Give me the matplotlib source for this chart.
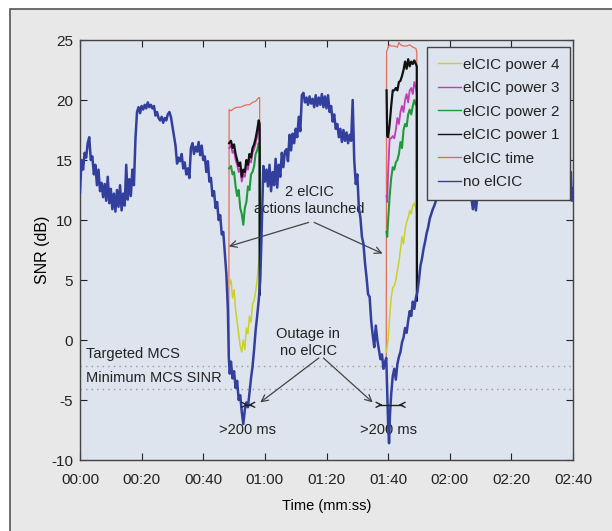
import numpy as np
import matplotlib
matplotlib.use('Agg')
import matplotlib.pyplot as plt
from matplotlib.patches import Rectangle
from matplotlib.lines import Line2D

nan = float('nan')

# ---------- dados (tempo em s, SNR em dB) ----------
blue_time = [0, 0.5, 1, 1.5, 2, 2.5, 3, 3.5, 4, 4.5, 5, 5.5, 6, 6.5, 7, 7.5, 8, 8.5, 9, 9.5, 10,
             10.5, 11, 11.5, 12, 12.5, 13, 13.5, 14, 14.5, 15, 15.5, 16, 16.5, 17, 17.5, 18, 18.5, 19, 19.5, 20,
             20.5, 21, 21.5, 22, 22.5, 23, 23.5, 24, 24.5, 25, 25.5, 26, 26.5, 27, 27.5, 28, 28.5, 29, 29.5, 30,
             30.5, 31, 31.5, 32, 32.5, 33, 33.5, 34, 34.5, 35, 35.5, 36, 36.5, 37, 37.5, 38, 38.5, 39, 39.5, 40,
             40.5, 41, 41.5, 42, 42.5, 43, 43.5, 44, 44.5, 45, 45.5, 46, 46.5, 47, 47.5, 48,
             48.3, 48.6, 49, 49.5, 50, 50.5, 51, 51.5, 52, 52.5, 53, 53.5, 54, 54.5, 55, 55.5, 56, 56.5, 57, 57.5,
             58, 58.5, 59, 59.5, 60,
             60.5, 61, 61.5, 62, 62.5, 63, 63.5, 64, 64.5, 65, 65.5, 66, 66.5, 67, 67.5, 68, 68.5, 69, 69.5, 70,
             70.5, 71, 71.5, 72, 72.5, 73, 73.5, 74, 74.5, 75, 75.5, 76, 76.5, 77, 77.5, 78, 78.5, 79, 79.5, 80,
             80.5, 81, 81.5, 82, 82.5, 83, 83.5, 84, 84.5, 85, 85.5, 86, 86.5, 87, 87.5, 88, 88.5, 89, 89.5, 90,
             90.5, 91, 91.5, 92, 92.5, 93, 93.5, 94, 94.5, 95, 95.5, 96, 96.5, 97, 97.5, 98, 98.5, 99, 99.4,
             99.7, 100, 100.3, 100.6, 101, 101.5, 102, 102.5, 103, 103.5, 104, 104.5, 105, 105.5, 106, 106.5,
             107, 107.5, 108, 108.5, 109, 109.5, 110, 110.5, 111, 111.5, 112, 112.5, 113, 113.5, 114, 114.5,
             115, 115.5, 116, 117, 118, 120, 122, 124, 126, 127, 127.5, 128, 128.5, 129, 131, 134, 137, 140,
             144, 148, 152, 156, 158, 159.3, 159.6, 160]
blue_snr = [12.3, 15.0, 14.2, 15.6, 15.2, 16.4, 16.9, 15.0, 15.3, 13.8, 14.6, 12.9, 14.2, 12.4, 13.1, 11.9, 13.0, 11.6, 13.6, 11.4, 12.6,
            10.9, 12.2, 10.7, 12.5, 11.1, 12.9, 10.8, 12.2, 11.2, 14.6, 11.7, 13.4, 12.0, 14.2, 12.9, 16.8, 19.0, 19.4, 18.9, 19.5,
            19.2, 19.6, 19.3, 19.8, 19.4, 19.6, 19.3, 19.5, 18.7, 19.0, 18.5, 18.3, 18.6, 18.1, 18.5, 18.3, 18.8, 19.0, 18.6, 17.8,
            17.0, 16.2, 14.7, 15.2, 14.9, 15.5, 14.3, 14.8, 13.8, 14.3, 13.5, 16.0, 16.4, 15.5, 16.1, 15.7, 16.5, 15.4, 16.2, 15.0,
            15.3, 14.0, 14.9, 13.2, 13.5, 12.0, 12.4, 11.0, 11.5, 10.0, 10.4, 8.8, 9.0, 7.3, 5.5, 2.5,
            -1.5, -2.8, -1.8, -3.2, -2.6, -4.0, -3.4, -5.0, -4.6, -6.0, -7.0, -5.8, -5.2, -5.6, -4.4, -3.2, -2.2, -0.8, 0.8, 2.0,
            3.3, 5.0, 9.5, 14.5, 13.2,
            14.2, 12.8, 14.6, 12.4, 14.0, 12.9, 15.1, 12.7, 14.6, 13.6, 15.6, 14.4, 15.7, 15.9, 14.9, 17.1, 15.8, 17.2, 16.4, 17.6,
            16.9, 18.6, 17.4, 20.4, 20.6, 19.8, 20.2, 19.6, 20.3, 19.7, 20.1, 19.4, 20.4, 19.5, 20.2, 19.6, 20.5, 19.4, 20.3, 19.3,
            20.4, 19.0, 19.5, 18.2, 18.8, 17.6, 18.0, 16.9, 17.6, 16.5, 17.5, 16.6, 17.3, 16.4, 17.1, 16.6, 20.0, 15.0, 13.0, 13.8,
            11.0, 10.2, 8.6, 8.0, 6.4, 5.2, 3.8, 3.6, 1.6, 0.4, -0.6, 1.2, 0.0, -0.8, -1.6, -1.2, -2.4, -1.8, -1.5,
            -4.2, -7.0, -8.6, -6.2, -4.5, -3.0, -2.4, -3.3, -2.0, -1.4, -1.0, -0.2, 0.2, 1.0, 0.6, 1.6,
            2.4, 2.0, 3.2, 2.6, 3.5, 4.0, 5.0, 6.2, 6.8, 7.6, 8.2, 8.9, 9.4, 10.1, 10.5, 10.9,
            11.2, 11.6, 12.0, 12.6, 12.2, 12.8, 12.4, 12.9, 12.2, 11.9, 10.9, 11.9, 10.8, 12.1, 12.6, 13.0, 12.7, 13.1,
            12.6, 13.2, 12.8, 13.0, 12.7, 14.0, 11.6, 12.6]

time_time = [48.3, 48.4, 49, 50, 51, 52, 53, 54, 55, 56, 57, 58, 58.3, 58.35, nan,
             99.4, 99.5, 100, 100.5, 101, 102, 103, 103.5, 104, 105, 106, 107, 108, 109, 109.3, 109.35]
time_snr = [-1.5, 19.2, 19.1, 19.3, 19.4, 19.4, 19.5, 19.6, 19.6, 19.8, 19.9, 20.2, 20.2, 3.8, nan,
            -1.5, 24.0, 24.4, 24.6, 24.5, 24.5, 24.4, 24.8, 24.6, 24.5, 24.5, 24.6, 24.4, 24.3, 24.0, 3.3]

ev_time = [48.4, 49, 49.5, 50, 50.5, 51, 51.5, 52, 52.5, 53, 53.5, 54, 54.5, 55, 55.5, 56, 56.5, 57, 57.5, 58, 58.3, 58.35, nan,
           99.5, 99.7, 100, 100.5, 101, 101.5, 102, 102.5, 103, 103.5, 104, 104.5, 105, 105.5, 106, 106.5, 107, 107.5, 108,
           108.5, 109, 109.3, 109.35]
p1_snr = [16.4, 16.6, 16.0, 16.3, 15.5, 15.0, 14.5, 14.8, 13.6, 14.2, 14.0, 15.0, 14.6, 15.5, 15.2, 16.0, 16.3, 16.8, 17.5, 18.3, 18.0, 3.8, nan,
          20.8, 17.0, 16.9, 18.0, 19.5, 20.8, 20.8, 21.0, 20.8, 21.5, 21.6, 22.0, 22.5, 23.2, 22.6, 23.4, 22.8, 23.2, 23.0,
          23.3, 23.0, 22.8, 3.3]
p2_snr = [14.3, 14.5, 13.8, 14.0, 12.8, 12.0, 12.5, 11.0, 10.5, 9.6, 11.0, 11.5, 12.8, 12.5, 13.8, 14.0, 14.5, 15.5, 15.8, 16.4, 16.0, 3.8, nan,
          9.0, 8.6, 10.0, 12.0, 13.5, 14.4, 14.2, 14.8, 15.0, 15.5, 16.5, 16.0, 17.5, 18.0, 17.8, 18.8, 19.2, 18.8, 19.5,
          20.0, 19.6, 19.8, 3.3]
p3_snr = [16.0, 16.2, 15.6, 15.8, 15.0, 14.6, 14.0, 14.3, 13.2, 13.8, 13.6, 14.6, 14.2, 15.0, 14.8, 15.6, 15.9, 16.4, 17.0, 17.8, 17.5, 3.8, nan,
          12.0, 11.5, 14.0, 16.8, 16.8, 17.0, 16.8, 17.5, 18.5, 18.0, 19.0, 19.5, 19.0, 20.0, 20.5, 19.8, 20.8, 21.0, 20.5,
          21.5, 21.0, 20.5, 3.3]
p4_snr = [4.5, 5.0, 3.5, 4.2, 2.5, 1.5, 0.5, -0.5, -1.0, 0.0, -0.8, 1.0, 0.5, 2.0, 1.5, 3.0, 3.3, 4.0, 5.0, 6.5, 7.0, 3.8, nan,
          -1.0, -0.5, 0.0, 2.0, 3.5, 4.4, 4.5, 5.0, 5.8, 6.5, 7.5, 8.6, 8.0, 9.2, 9.8, 10.2, 10.8, 10.5, 11.2,
          11.4, 11.0, 10.5, 3.3]

targeted_mcs = -2.2
minimum_mcs = -4.1

x_ticks = [0, 20, 40, 60, 80, 100, 120, 140, 160]
x_labels = ['00:00', '00:20', '00:40', '01:00', '01:20', '01:40', '02:00', '02:20', '02:40']
y_ticks = [-10, -5, 0, 5, 10, 15, 20, 25]

# ---------- estilo ----------
plt.rcParams['font.family'] = ['Liberation Sans', 'DejaVu Sans']
plt.rcParams['text.color'] = '#222222'
plt.rcParams['axes.unicode_minus'] = False
fs = 10.5

c_blue = '#333f9c'
c_red = '#e0705a'
c_black = '#111111'
c_green = '#1f9a3a'
c_mag = '#c23cb4'
c_yel = '#c9d12a'

fig = plt.figure(figsize=(6.12, 5.31), dpi=100)
fig.patch.set_facecolor('white')

# moldura cinza
fig.patches.append(Rectangle((10/612, -0.1), 1.2, 1.1 - 9/531, transform=fig.transFigure,
                             facecolor='#e8e8e8', edgecolor='#555555', linewidth=1.2, zorder=-5))

ax = fig.add_axes([80/612, 1 - 460/531, 493/612, 420/531])
ax.set_facecolor('#dde4ee')

ax.axhline(targeted_mcs, color='#999999', linestyle=(0, (1, 3)), linewidth=1)
ax.axhline(minimum_mcs, color='#999999', linestyle=(0, (1, 3)), linewidth=1)

ax.plot(time_time, time_snr, color=c_red, linewidth=0.9, zorder=2)
ax.plot(ev_time, p4_snr, color=c_yel, linewidth=1.1, zorder=3)
ax.plot(ev_time, p3_snr, color=c_mag, linewidth=1.3, zorder=3)
ax.plot(ev_time, p2_snr, color=c_green, linewidth=1.5, zorder=3)
ax.plot(ev_time, p1_snr, color=c_black, linewidth=1.6, zorder=3)
ax.plot(blue_time, blue_snr, color=c_blue, linewidth=1.8, zorder=4)

ax.set_xlim(0, 160)
ax.set_ylim(-10, 25)
ax.set_xticks(x_ticks)
ax.set_xticklabels(x_labels)
ax.set_yticks(y_ticks)
ax.tick_params(direction='in', top=True, right=True, length=5, width=0.8, labelsize=fs + 0.5,
               pad=5, colors='#222222')
ax.tick_params(axis='x', pad=9)
for s in ax.spines.values():
    s.set_color('#444444')
    s.set_linewidth(1)

ax.set_xlabel('Time (mm:ss)', fontsize=fs, labelpad=9)
ax.set_ylabel('SNR (dB)', fontsize=fs + 1, labelpad=1)

# textos
ax.text(2, -1.2, 'Targeted MCS', fontsize=fs, va='center', ha='left')
ax.text(2, -3.2, 'Minimum MCS SINR', fontsize=fs, va='center', ha='left')
ax.text(74.5, 11.6, '2 elCIC\nactions launched', fontsize=fs, ha='center', va='center', linespacing=1.25)
ax.text(74.1, -0.2, 'Outage in\nno elCIC', fontsize=fs, ha='center', va='center', linespacing=1.25)
ax.text(54.3, -7.5, '>200 ms', fontsize=fs, ha='center', va='center')
ax.text(100.2, -7.5, '>200 ms', fontsize=fs, ha='center', va='center')

seta = dict(arrowstyle='->', color='#444444', lw=0.9, mutation_scale=12, shrinkA=0, shrinkB=0)
ax.annotate('', xy=(48.3, 7.8), xytext=(74.2, 9.8), arrowprops=seta)
ax.annotate('', xy=(98.2, 7.2), xytext=(76.0, 9.8), arrowprops=seta)
ax.annotate('', xy=(58.5, -5.2), xytext=(77.5, -1.5), arrowprops=seta)
ax.annotate('', xy=(95.0, -5.2), xytext=(79.0, -1.5), arrowprops=seta)

# marcas de duração (>-<)
cota = dict(arrowstyle='->', color='#222222', lw=1.0, mutation_scale=9, shrinkA=0, shrinkB=0)
for a, b in [(53.6, 55.6), (97.2, 104.4)]:
    ax.plot([a, b], [-5.4, -5.4], color='#222222', linewidth=1.0, zorder=5)
    ax.annotate('', xy=(a + 1.0, -5.4), xytext=(a, -5.4), arrowprops=cota, zorder=5)
    ax.annotate('', xy=(b - 1.0, -5.4), xytext=(b, -5.4), arrowprops=cota, zorder=5)

# legenda
handles = [Line2D([], [], color=c_yel, lw=1), Line2D([], [], color=c_mag, lw=1),
           Line2D([], [], color=c_green, lw=1), Line2D([], [], color=c_black, lw=1),
           Line2D([], [], color=c_red, lw=1), Line2D([], [], color=c_blue, lw=1)]
labels = ['elCIC power 4', 'elCIC power 3', 'elCIC power 2', 'elCIC power 1', 'elCIC time', 'no elCIC']
leg = ax.legend(handles, labels, loc='upper right', bbox_to_anchor=((570 - 80)/493, 1 - 7/420),
                borderaxespad=0, fontsize=fs + 0.5, handlelength=1.5, handletextpad=0.15,
                labelspacing=0.62, borderpad=0.7, fancybox=False, framealpha=1,
                facecolor='#dde4ee', edgecolor='#444444')
leg.get_frame().set_linewidth(1)
leg.set_zorder(10)

fig.savefig('out.png', dpi=100)
